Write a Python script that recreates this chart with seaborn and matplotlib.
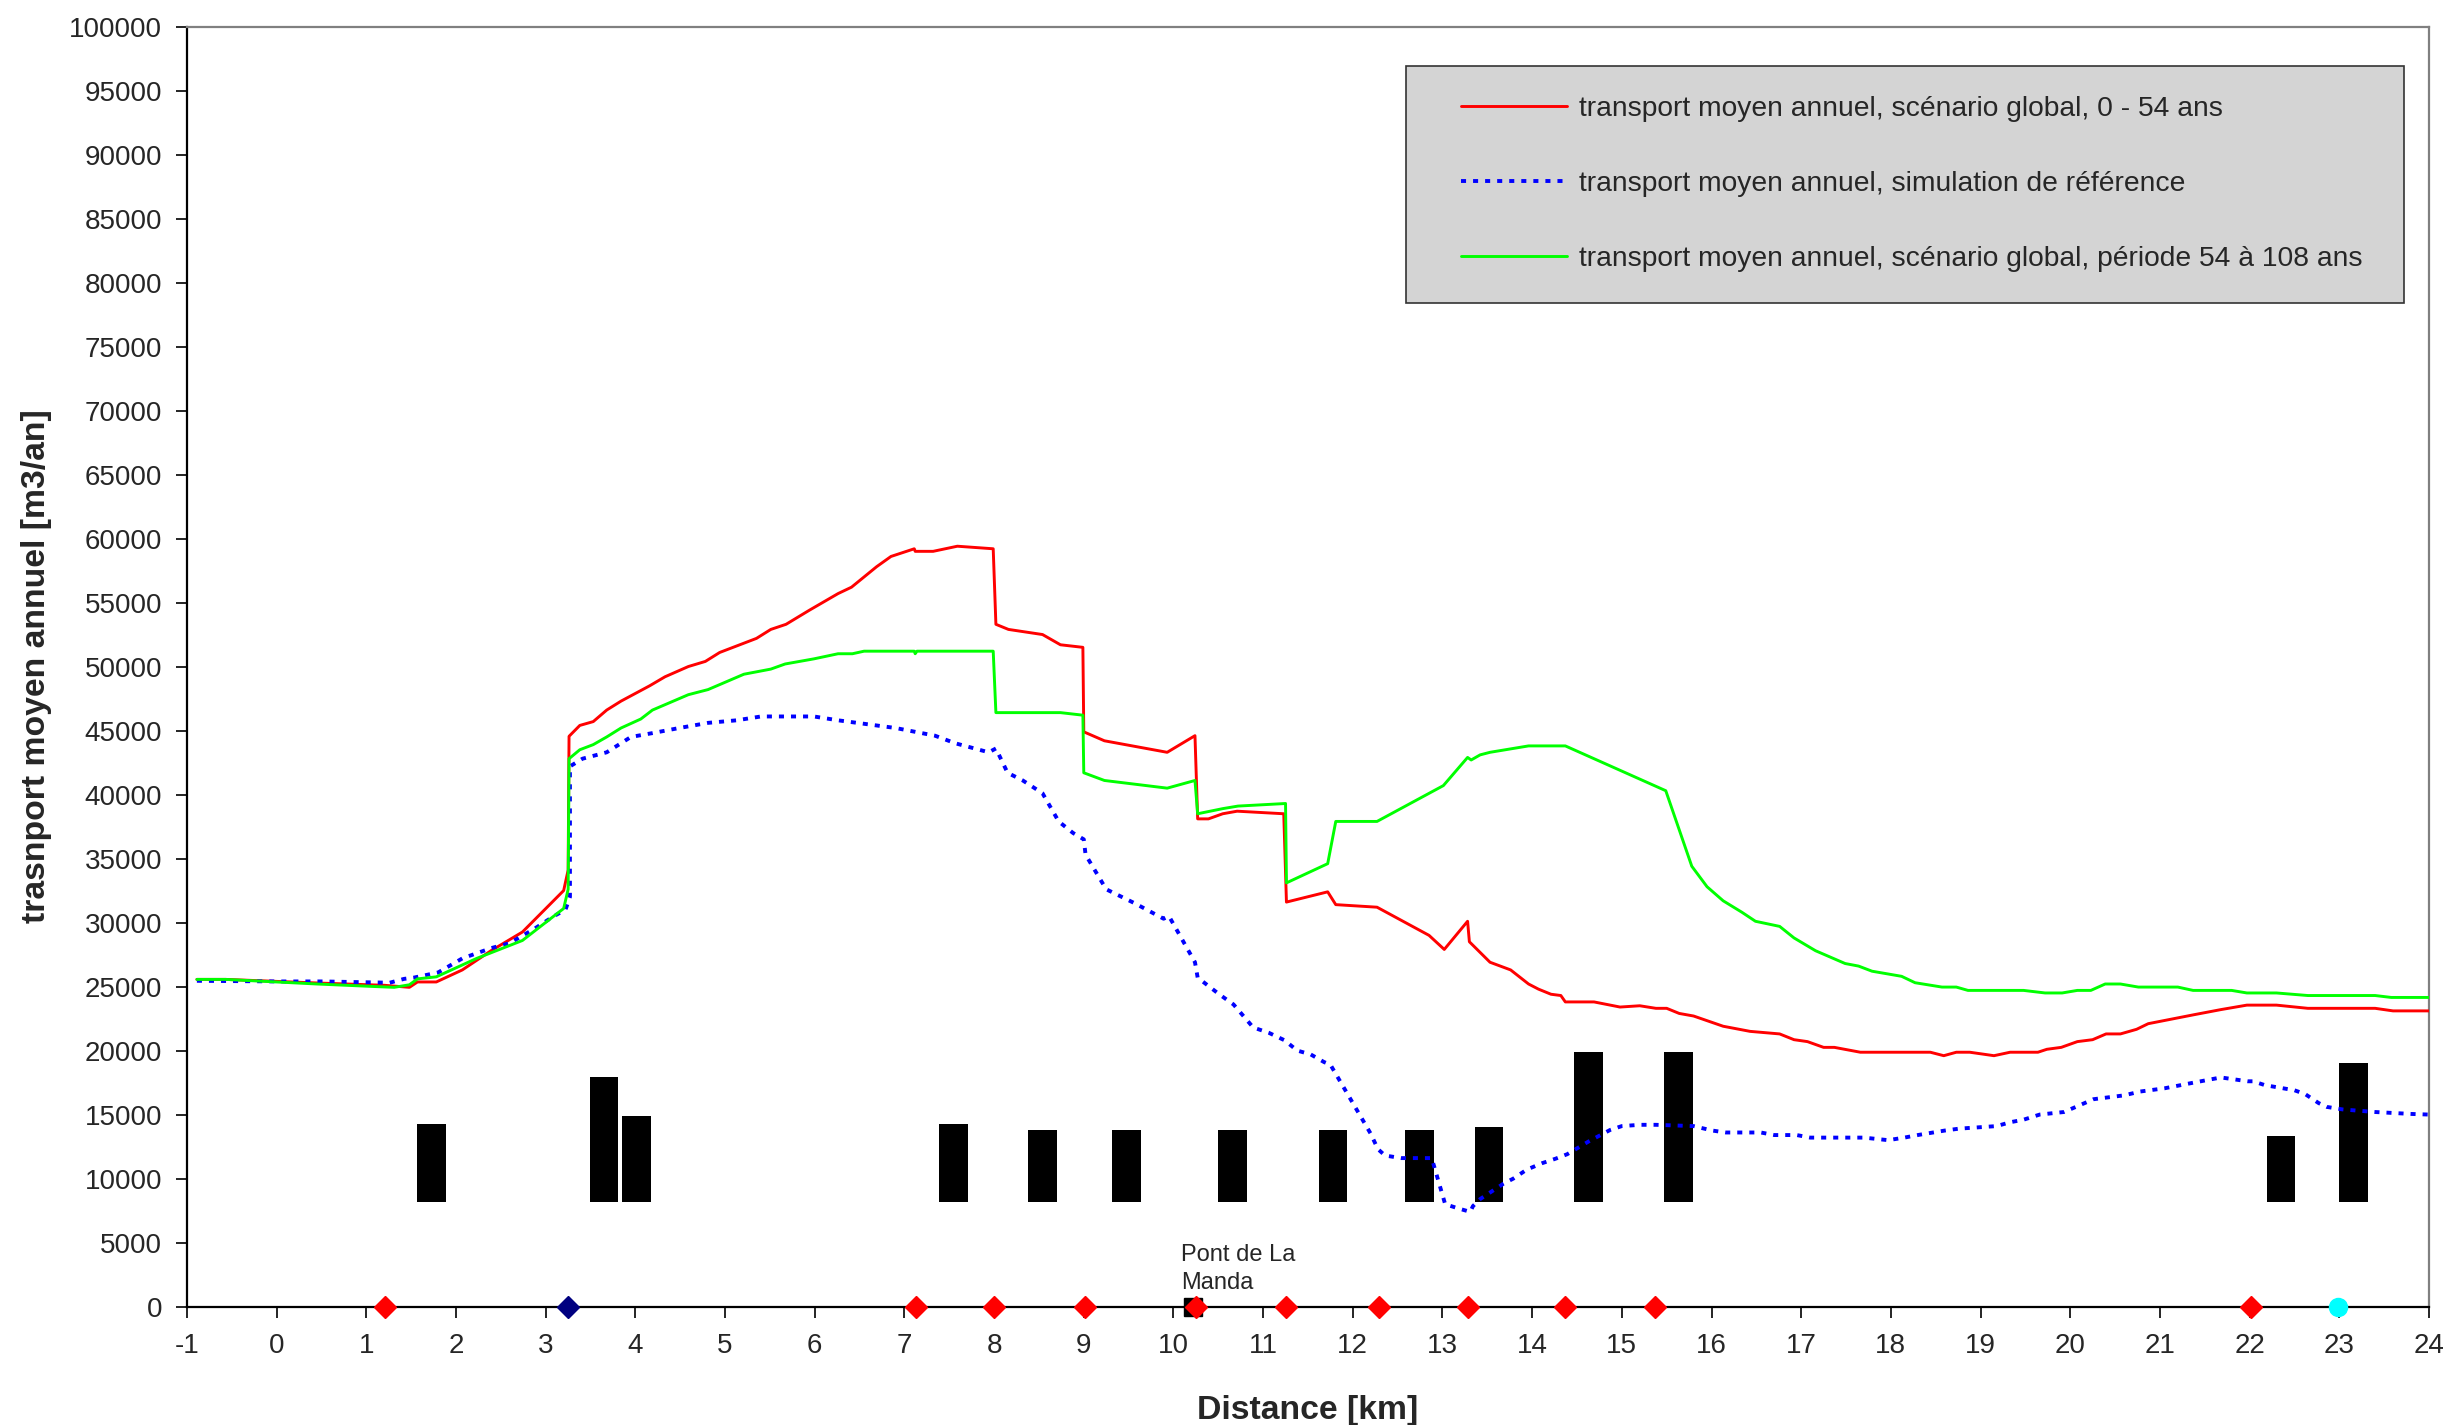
import numpy as np
import pandas as pd
import matplotlib
matplotlib.use("Agg")
import matplotlib.pyplot as plt
from matplotlib.patches import Rectangle
import seaborn as sns

# ---------------- data ----------------
red_km = [-0.89, -0.57, 0.45, 1.2, 1.48, 1.57, 1.78, 2.07, 2.39, 2.74, 3.2, 3.25, 3.26, 3.38, 3.53,
          3.68, 3.84, 4.16, 4.33, 4.59, 4.78, 4.94, 5.35, 5.51, 5.68, 5.94, 6.26, 6.41, 6.69, 6.85,
          7.11, 7.12, 7.32, 7.59, 7.99, 8.02, 8.16, 8.54, 8.74, 8.99, 9.0, 9.23, 9.93, 10.24, 10.27,
          10.39, 10.55, 10.71, 11.23, 11.26, 11.72, 11.81, 12.27, 12.85, 13.02, 13.28, 13.3, 13.53,
          13.76, 13.96, 14.07, 14.21, 14.32, 14.37, 14.69, 14.98, 15.2, 15.38, 15.5, 15.64, 15.8,
          16.13, 16.43, 16.76, 16.92, 17.07, 17.25, 17.37, 17.66, 18.44, 18.59, 18.73, 18.88, 19.15,
          19.33, 19.64, 19.74, 19.9, 20.08, 20.25, 20.4, 20.56, 20.74, 20.87, 21.38, 21.68, 21.97,
          22.3, 22.65, 23.4, 23.6, 24.0]
red_val = [25560, 25560, 25280, 25100, 24940, 25360, 25360, 26300, 27800, 29260, 32500, 34100, 44550,
           45400, 45700, 46600, 47300, 48500, 49200, 50000, 50400, 51100, 52200, 52900, 53300, 54400,
           55700, 56200, 57800, 58600, 59200, 59000, 59000, 59400, 59200, 53300, 52900, 52500, 51700,
           51500, 44900, 44200, 43300, 44600, 38100, 38100, 38500, 38700, 38500, 31600, 32400, 31400,
           31200, 29000, 27900, 30100, 28500, 26900, 26300, 25200, 24800, 24400, 24300, 23800, 23800,
           23400, 23500, 23300, 23300, 22900, 22700, 21900, 21500, 21300, 20850, 20700, 20250, 20250,
           19870, 19870, 19600, 19870, 19870, 19600, 19870, 19870, 20100, 20250, 20700, 20850, 21300,
           21300, 21660, 22100, 22800, 23200, 23550, 23550, 23300, 23300, 23100, 23100]

blue_km = [-0.89, 0.02, 0.51, 1.26, 1.42, 1.53, 1.8, 2.07, 2.39, 2.6, 2.87, 3.09, 3.22, 3.27, 3.27,
           3.41, 3.68, 3.95, 4.19, 4.49, 4.81, 5.13, 5.4, 5.99, 6.26, 6.58, 6.9, 7.12, 7.34, 7.57,
           7.94, 8.02, 8.15, 8.32, 8.54, 8.72, 8.88, 9.0, 9.02, 9.25, 9.57, 9.89, 9.95, 10.24, 10.27,
           10.51, 10.67, 10.89, 11.06, 11.24, 11.38, 11.53, 11.68, 11.75, 12.1, 12.2, 12.28, 12.36,
           12.54, 12.88, 13.03, 13.18, 13.31, 13.34, 13.42, 13.68, 13.79, 13.94, 14.11, 14.26, 14.39,
           14.63, 14.87, 15.0, 15.2, 15.38, 15.8, 16.01, 16.16, 16.55, 16.7, 16.95, 17.1, 17.7, 17.97,
           18.15, 18.3, 18.6, 18.76, 19.18, 19.33, 19.48, 19.66, 19.93, 20.08, 20.26, 20.6, 20.78,
           21.05, 21.38, 21.68, 21.98, 22.04, 22.17, 22.5, 22.62, 22.77, 22.86, 23.04, 23.4, 23.8, 24.0]
blue_val = [25450, 25400, 25400, 25300, 25600, 25700, 26100, 27200, 28000, 28400, 29500, 30500, 31000,
            32000, 42200, 42800, 43300, 44500, 44800, 45200, 45600, 45800, 46100, 46100, 45800, 45500,
            45200, 44900, 44600, 44000, 43300, 43600, 41700, 41100, 40100, 37900, 37000, 36500, 35300,
            32600, 31500, 30300, 30500, 26900, 25700, 24400, 23600, 21800, 21400, 20800, 20000, 19700,
            19100, 18900, 14700, 13500, 12300, 11800, 11600, 11600, 8000, 7660, 7400, 7850, 8400, 9600,
            10000, 10700, 11200, 11550, 11900, 12900, 13800, 14100, 14200, 14200, 14100, 13750, 13600,
            13600, 13400, 13400, 13200, 13200, 13000, 13200, 13400, 13750, 13900, 14100, 14400, 14600,
            15000, 15200, 15650, 16200, 16500, 16800, 17050, 17500, 17900, 17600, 17600, 17300, 16900,
            16600, 15900, 15600, 15400, 15200, 15050, 15000]

green_km = [-0.89, -0.57, 0.45, 1.1, 1.31, 1.48, 1.57, 1.78, 2.23, 2.74, 3.2, 3.25, 3.26, 3.38, 3.53,
            3.68, 3.84, 4.06, 4.19, 4.59, 4.81, 5.21, 5.51, 5.67, 5.99, 6.26, 6.42, 6.55, 7.11, 7.12,
            7.14, 7.99, 8.02, 8.74, 8.99, 9.0, 9.23, 9.93, 10.24, 10.27, 10.55, 10.72, 11.25, 11.26,
            11.72, 11.81, 12.27, 13.01, 13.28, 13.32, 13.42, 13.53, 13.96, 14.37, 15.49, 15.78, 15.95,
            16.13, 16.34, 16.49, 16.76, 16.92, 17.16, 17.49, 17.64, 17.79, 18.12, 18.27, 18.57, 18.73,
            18.86, 19.48, 19.72, 19.91, 20.08, 20.23, 20.39, 20.56, 20.76, 21.2, 21.37, 21.8, 21.97,
            22.3, 22.65, 23.4, 23.58, 24.0]
green_val = [25560, 25560, 25200, 25000, 24940, 25140, 25600, 25760, 27200, 28600, 31100, 32600, 42800,
             43500, 43900, 44500, 45200, 45900, 46600, 47800, 48200, 49400, 49800, 50200, 50600, 51000,
             51000, 51200, 51200, 51000, 51200, 51200, 46400, 46400, 46200, 41700, 41100, 40500, 41100,
             38500, 38900, 39100, 39300, 33100, 34600, 37900, 37900, 40700, 42900, 42700, 43100, 43300,
             43800, 43800, 40300, 34400, 32800, 31700, 30800, 30100, 29700, 28800, 27800, 26800, 26600,
             26200, 25800, 25300, 24960, 24960, 24700, 24700, 24500, 24500, 24700, 24700, 25200, 25200,
             24960, 24960, 24700, 24700, 24500, 24500, 24300, 24300, 24150, 24150]

bar_km = [1.73, 3.65, 4.01, 7.55, 8.54, 9.48, 10.66, 11.78, 12.74, 13.52, 14.63, 15.63, 22.35, 23.16]
bar_top = [14250, 17900, 14850, 14300, 13800, 13800, 13800, 13800, 13800, 14000, 19900, 19900, 13300, 19000]
bar_base = 8200

red_marker_km = [1.21, 7.13, 8.0, 9.01, 10.25, 11.26, 12.29, 13.28, 14.37, 15.37, 22.02]
navy_marker_km = [3.25]
bridge_km = [10.22]
cyan_marker_km = [22.99]

labels = ["transport moyen annuel, scénario global, 0 - 54 ans",
          "transport moyen annuel, simulation de référence",
          "transport moyen annuel, scénario global, période 54 à 108 ans"]

# ---------------- style ----------------
sns.set_style("white")
plt.rcParams['font.family'] = ['Liberation Sans', 'DejaVu Sans']
plt.rcParams['axes.unicode_minus'] = False

fig = plt.figure(figsize=(24.48, 14.25), dpi=100)
ax = fig.add_axes([0.0764, 0.0831, 0.9158, 0.8983])

# bars
ax.bar(bar_km, np.array(bar_top) - bar_base, bottom=bar_base, width=0.32,
       color='black', edgecolor='none', zorder=2)

df_red = pd.DataFrame({'km': red_km, 'v': red_val})
df_blue = pd.DataFrame({'km': blue_km, 'v': blue_val})
df_green = pd.DataFrame({'km': green_km, 'v': green_val})

sns.lineplot(data=df_red, x='km', y='v', estimator=None, sort=False, ax=ax,
             color='#ff0000', lw=2.1, zorder=3)
sns.lineplot(data=df_blue, x='km', y='v', estimator=None, sort=False, ax=ax,
             color='#0000ff', lw=2.8, linestyle=(0, (1.3, 1.8)), zorder=3)
sns.lineplot(data=df_green, x='km', y='v', estimator=None, sort=False, ax=ax,
             color='#00ff00', lw=2.1, zorder=3)

# markers on the axis
ax.plot(bridge_km, [0] * len(bridge_km), 's', ms=13, color='black', clip_on=False, zorder=5)
ax.plot(red_marker_km, [0] * len(red_marker_km), 'D', ms=11, color='#ff0000', mec='#ff0000',
        clip_on=False, zorder=6, lw=0)
ax.plot(navy_marker_km, [0] * len(navy_marker_km), 'D', ms=11, color='#000080', clip_on=False, zorder=6)
ax.plot(cyan_marker_km, [0] * len(cyan_marker_km), 'o', ms=13, color='#00ffff', clip_on=False, zorder=6)

ax.text(10.08, 950, "Pont de La\nManda", fontsize=17, ha='left', va='bottom',
        linespacing=1.4, zorder=6)

# axes
ax.set_xlim(-1, 24)
ax.set_ylim(0, 100000)
ax.set_xticks(range(-1, 25))
ax.set_yticks(range(0, 100001, 5000))
ax.tick_params(axis='both', which='major', labelsize=20, length=8, width=1.2,
               direction='out', color='black', left=True, bottom=True)
ax.tick_params(axis='y', pad=10)
ax.tick_params(axis='x', pad=11)
ax.set_xlabel("Distance [km]", fontsize=24.3, fontweight='bold', labelpad=26)
ax.set_ylabel("trasnport moyen annuel [m3/an]", fontsize=24.3, fontweight='bold', labelpad=12)

for side in ['left', 'bottom']:
    ax.spines[side].set_color('black')
    ax.spines[side].set_linewidth(1.6)
for side in ['top', 'right']:
    ax.spines[side].set_color('#808080')
    ax.spines[side].set_linewidth(1.6)
ax.grid(False)

# legend box
ax.add_patch(Rectangle((0.5437, 0.784), 0.4451, 0.185, transform=ax.transAxes,
                       facecolor='#d4d4d4', edgecolor='#333333', lw=1.2, zorder=7))
handles = ax.get_lines()[:3]
leg = ax.legend(handles, labels, loc='upper left', bbox_to_anchor=(0.5682, 0.946),
                frameon=False, fontsize=20.3, handlelength=3.75, handletextpad=0.45,
                labelspacing=1.75, borderpad=0, borderaxespad=0)
leg.set_zorder(8)

fig.savefig("out.png", dpi=100)
